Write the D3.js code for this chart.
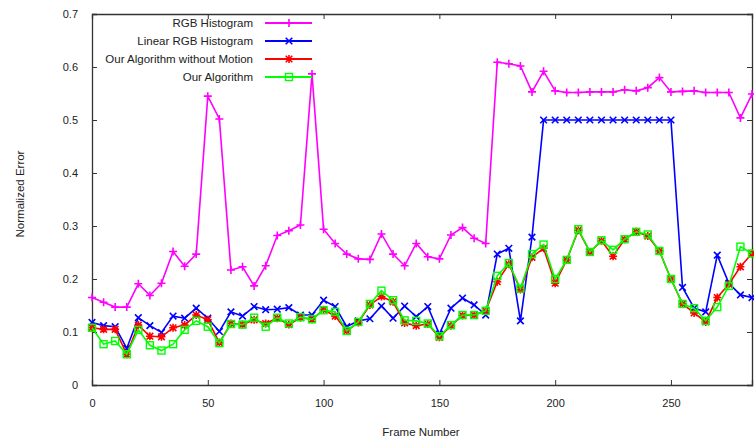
<!DOCTYPE html>
<html>
<head>
<meta charset="utf-8">
<script src="https://cdn.jsdelivr.net/npm/d3@7"></script>
<style>
  body { margin: 0; background: #fff; }
  svg { display: block; }
  text { font-family: "Liberation Sans", Arial, sans-serif; fill: #222; }
</style>
</head>
<body>
<svg id="chart" width="754" height="441"></svg>
<script>
const frames = [0,5,10,15,20,25,30,35,40,45,50,55,60,65,70,75,80,85,90,95,100,105,110,115,120,125,130,135,140,145,150,155,160,165,170,175,180,185,190,195,200,205,210,215,220,225,230,235,240,245,250,255,260,265,270,275,280,285];

const rgbHist = [0.165,0.156,0.147,0.147,0.191,0.169,0.192,0.252,0.224,0.247,
  0.545,0.502,0.217,0.223,0.187,0.225,0.282,0.291,0.302,0.587,
  0.294,0.267,0.247,0.238,0.237,0.285,0.247,0.225,0.267,0.242,
  0.238,0.283,0.297,0.277,0.267,0.609,0.606,0.602,0.553,0.592,
  0.555,0.552,0.552,0.553,0.553,0.553,0.557,0.555,0.561,0.580,
  0.553,0.554,0.555,0.552,0.552,0.552,0.504,0.549];

const linearRgbHist = [0.118,0.112,0.110,0.069,0.127,0.112,0.099,0.130,0.126,0.145,
  0.126,0.101,0.138,0.130,0.148,0.142,0.143,0.146,0.132,0.132,
  0.160,0.148,0.110,0.121,0.125,0.149,0.126,0.149,0.129,0.148,
  0.096,0.145,0.164,0.151,0.132,0.247,0.258,0.121,0.279,0.500,
  0.500,0.500,0.500,0.500,0.500,0.500,0.500,0.500,0.500,0.500,
  0.500,0.184,0.145,0.138,0.245,0.192,0.170,0.165];

const ourNoMotion = [0.108,0.105,0.105,0.058,0.113,0.092,0.091,0.108,0.113,0.132,
  0.123,0.080,0.116,0.114,0.123,0.116,0.126,0.114,0.127,0.124,
  0.142,0.130,0.102,0.118,0.151,0.167,0.157,0.117,0.112,0.115,
  0.090,0.112,0.131,0.132,0.140,0.195,0.228,0.180,0.241,0.258,
  0.192,0.236,0.292,0.251,0.272,0.243,0.275,0.289,0.281,0.253,
  0.200,0.153,0.136,0.119,0.165,0.190,0.223,0.248];

const ourAlgorithm = [0.108,0.077,0.083,0.058,0.104,0.075,0.065,0.077,0.104,0.121,
  0.110,0.079,0.115,0.114,0.127,0.110,0.127,0.116,0.128,0.124,
  0.141,0.138,0.102,0.119,0.153,0.178,0.160,0.122,0.121,0.116,
  0.092,0.113,0.132,0.132,0.140,0.206,0.230,0.182,0.247,0.265,
  0.200,0.236,0.294,0.251,0.273,0.255,0.275,0.289,0.284,0.253,
  0.200,0.153,0.145,0.121,0.147,0.187,0.261,0.248];

const seriesNames = ["RGB Histogram","Linear RGB Histogram","Our Algorithm without Motion","Our Algorithm"];
const seriesColors = ["#ff00ff","#0000ff","#ff0000","#00ff00"];
const seriesMarkers = ["plus","cross","star","square"];
const xTicks = [0,50,100,150,200,250];
const yTicks = [0,0.1,0.2,0.3,0.4,0.5,0.6,0.7];
const xLabel = "Frame Number";
const yLabel = "Normalized Error";

const series = [rgbHist, linearRgbHist, ourNoMotion, ourAlgorithm].map((vals, i) => ({
  name: seriesNames[i], color: seriesColors[i], marker: seriesMarkers[i],
  points: frames.map((f, j) => ({ f, v: vals[j] }))
}));

const svg = d3.select("#chart");
const m = { left: 92, right: 2, top: 14, bottom: 56 };
const W = 754, H = 441;
const x = d3.scaleLinear().domain([0, 285]).range([m.left, W - m.right]);
const y = d3.scaleLinear().domain([0, 0.7]).range([H - m.bottom, m.top]);

const tickLen = 5;
const axisFont = '"Liberation Sans Narrow", "Liberation Sans", Arial, sans-serif';

// Axes (ticks inward on all four sides)
const gB = svg.append("g").attr("transform", `translate(0,${y(0)})`)
  .call(d3.axisBottom(x).tickValues(xTicks).tickSize(-tickLen).tickPadding(14).tickFormat(d3.format("d")));
const gT = svg.append("g").attr("transform", `translate(0,${y(0.7)})`)
  .call(d3.axisTop(x).tickValues(xTicks).tickSize(-tickLen).tickFormat(""));
const gL = svg.append("g").attr("transform", `translate(${x(0)},0)`)
  .call(d3.axisLeft(y).tickValues(yTicks).tickSize(-tickLen).tickPadding(14).tickFormat(d => d === 0 ? "0" : d3.format(".1f")(d)));
const gR = svg.append("g").attr("transform", `translate(${x(285)},0)`)
  .call(d3.axisRight(y).tickValues(yTicks).tickSize(-tickLen).tickFormat(""));

[gB, gT, gL, gR].forEach(g => {
  g.select(".domain").attr("stroke", "#333").attr("stroke-width", 1.3);
  g.selectAll(".tick line").attr("stroke", "#333");
  g.selectAll("text").attr("font-family", axisFont).attr("font-size", 11).attr("fill", "#222");
});

// Lines and markers
const line = d3.line().x(d => x(d.f)).y(d => y(d.v));
function markerPath(type) {
  const a = 4, b = 3.3;
  if (type === "plus") return `M${-a},0H${a}M0,${-a}V${a}`;
  if (type === "cross") return `M${-b},${-b}L${b},${b}M${-b},${b}L${b},${-b}`;
  if (type === "star") return `M${-a},0H${a}M0,${-a}V${a}M${-b},${-b}L${b},${b}M${-b},${b}L${b},${-b}`;
  return null;
}
function drawMarker(g, type, color, cx, cy) {
  if (type === "square") {
    g.append("rect").attr("x", cx - 3.5).attr("y", cy - 3.5).attr("width", 7).attr("height", 7)
      .attr("fill", "none").attr("stroke", color).attr("stroke-width", 1.4);
  } else {
    g.append("path").attr("d", markerPath(type)).attr("transform", `translate(${cx},${cy})`)
      .attr("fill", "none").attr("stroke", color).attr("stroke-width", 1.6);
  }
}

const plot = svg.append("g");
series.forEach(s => {
  const g = plot.append("g");
  g.append("path").datum(s.points).attr("d", line)
    .attr("fill", "none").attr("stroke", s.color).attr("stroke-width", 1.6);
  s.points.forEach(p => drawMarker(g, s.marker, s.color, x(p.f), y(p.v)));
});

// Legend
const legendRows = [23, 41, 59, 77];
series.forEach((s, i) => {
  const g = svg.append("g");
  const ly = legendRows[i];
  g.append("text").attr("x", 253).attr("y", ly).attr("dy", "0.35em")
    .attr("text-anchor", "end").attr("font-size", 11.5).text(s.name);
  g.append("line").attr("x1", 265).attr("x2", 312).attr("y1", ly).attr("y2", ly)
    .attr("stroke", s.color).attr("stroke-width", 2);
  drawMarker(g, s.marker, s.color, 289, ly);
});

// Axis titles
svg.append("text").attr("x", 421).attr("y", 432).attr("dy", "0.35em")
  .attr("text-anchor", "middle").attr("font-family", axisFont).attr("font-size", 11.5).text(xLabel);
svg.append("text").attr("transform", "translate(20,194) rotate(-90)").attr("dy", "0.35em")
  .attr("text-anchor", "middle").attr("font-family", axisFont).attr("font-size", 11.5).text(yLabel);
</script>
</body>
</html>
